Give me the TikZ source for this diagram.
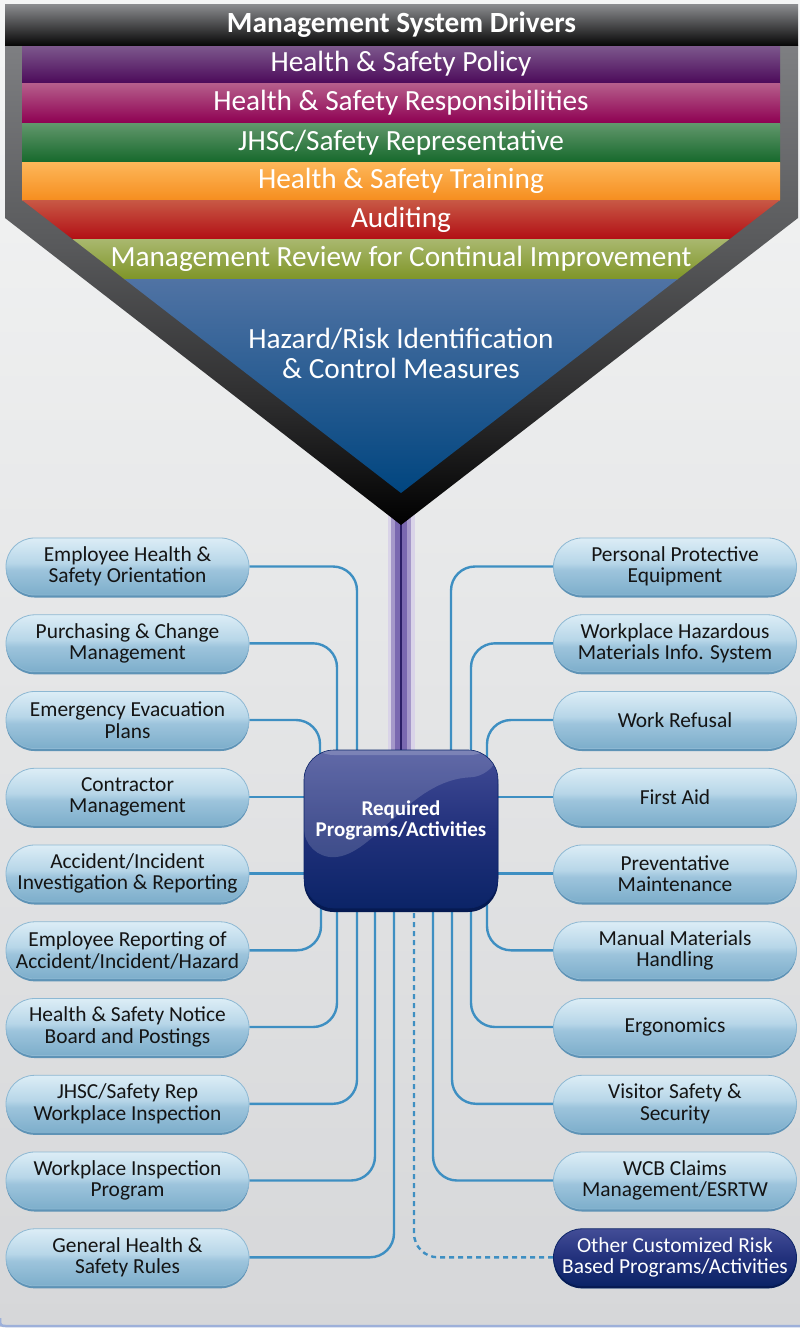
\documentclass[tikz,border=0pt]{standalone}
\usepackage{fontspec}
\setmainfont{Carlito}
\usetikzlibrary{calc}
\definecolor{bgtop}{HTML}{F4F5F5}
\definecolor{bgbot}{HTML}{D6D7D9}
\definecolor{bgline}{HTML}{9DB0DA}
\definecolor{fr1}{HTML}{7E7F82}
\definecolor{fr2}{HTML}{58595B}
\definecolor{fr3}{HTML}{2E2E2F}
\definecolor{ttop}{HTML}{8C8D90}
\definecolor{tbot}{HTML}{080808}
\definecolor{purT}{HTML}{7E5A8E}
\definecolor{purB}{HTML}{4C0A5A}
\definecolor{magT}{HTML}{B65F8C}
\definecolor{magB}{HTML}{8E0052}
\definecolor{grnT}{HTML}{62976C}
\definecolor{grnB}{HTML}{16692C}
\definecolor{orgT}{HTML}{FDB75A}
\definecolor{orgB}{HTML}{F68E1F}
\definecolor{redT}{HTML}{C85945}
\definecolor{redB}{HTML}{B20F15}
\definecolor{oliT}{HTML}{A9B86F}
\definecolor{oliB}{HTML}{7F9527}
\definecolor{bluT}{HTML}{5073A4}
\definecolor{bluM}{HTML}{22578F}
\definecolor{bluB}{HTML}{00457F}
\definecolor{conn}{HTML}{3E8FC2}
\definecolor{ptop}{HTML}{DCEDF6}
\definecolor{pmid1}{HTML}{B7D6E8}
\definecolor{pmid2}{HTML}{9DC4DC}
\definecolor{pbot}{HTML}{7DAECB}
\definecolor{pedge}{HTML}{8DB8D3}
\definecolor{pshadow}{HTML}{5E93B6}
\definecolor{btop}{HTML}{434D97}
\definecolor{bmid}{HTML}{22317C}
\definecolor{bbot}{HTML}{0B2467}
\definecolor{bshadow}{HTML}{061A52}
\definecolor{stemL}{HTML}{D9D3E8}
\definecolor{stemM}{HTML}{7A68B0}
\definecolor{stemD}{HTML}{2B1F66}
\pgfdeclarelayer{back}
\pgfdeclarelayer{conn}
\pgfsetlayers{back,conn,main}
\pgfdeclareverticalshading{frameshade}{100bp}{color(0bp)=(black); color(25bp)=(black); color(38bp)=(fr3); color(54bp)=(fr2); color(75bp)=(fr1); color(100bp)=(fr1)}
\pgfdeclareverticalshading{pillshade}{100bp}{color(0bp)=(pbot); color(25bp)=(pbot); color(47bp)=(pmid2); color(53bp)=(pmid1); color(75bp)=(ptop); color(100bp)=(ptop)}
\pgfdeclareverticalshading{boxshade}{100bp}{color(0bp)=(bbot); color(25bp)=(bbot); color(50bp)=(bmid); color(75bp)=(btop); color(100bp)=(btop)}
\newcommand{\pillfont}{\fontsize{21.4}{21.5}\selectfont}
\newcommand{\bandfont}{\fontsize{29.3}{30}\selectfont}
\begin{document}
\begin{tikzpicture}[x=1pt,y=-1pt,
  pill/.style={rounded corners=28.5, minimum width=243, minimum height=57, inner sep=0,
    shade, shading=pillshade, draw=pedge, line width=0.8, align=center, font=\pillfont,
    text=black!92, preaction={fill=pshadow, transform canvas={yshift=-2.5pt}}},
  darkpill/.style={pill, shading=boxshade, draw=bbot, text=white,
    preaction={fill=bshadow, transform canvas={yshift=-2.5pt}}},
  band/.style={minimum width=760, inner sep=0, text=white, font=\bandfont},
  link/.style={draw=conn, line width=2.4, rounded corners=24},
  dlink/.style={link, dash pattern=on 5pt off 4pt},
  boxnode/.style={rounded corners=30, minimum width=194, minimum height=158, inner sep=0,
    shade, shading=boxshade, draw=bbot, line width=0.6,
    preaction={fill=bshadow, transform canvas={yshift=-4pt}}},
  boxtext/.style={text=white, align=center, font=\bfseries\fontsize{21}{21}\selectfont, yshift=9pt},
]
\useasboundingbox (0,0) rectangle (800,1331);
\begin{pgfonlayer}{back}
\fill[white] (0,0) rectangle (800,1331);
\shade[top color=bgtop, bottom color=bgbot] (0,0) rectangle (800,1326);
\draw[bgline, line width=2.5] (0,1318) .. controls (0,1326) .. (8,1326) -- (800,1326);
\end{pgfonlayer}

% funnel frame
\shade[shading=frameshade] (5,45) -- (798,45) -- (798,218) -- (401,525) -- (5,218) -- cycle;
\coordinate (tip) at (401,515);
% bands
\begin{scope}
\clip (22,44) -- (780,44) -- (780,200) -- (401,493) -- (22,200) -- cycle;
\node[band, top color=purT, bottom color=purB, minimum height=38] (b1) at (401,64) {Health \& Safety Policy};
\node[band, top color=magT, bottom color=magB, minimum height=40] (b2) at (401,103) {Health \& Safety Responsibilities};
\node[band, top color=grnT, bottom color=grnB, minimum height=39] (b3) at (401,142.5) {JHSC/Safety Representative};
\node[band, top color=orgT, bottom color=orgB, minimum height=38] (b4) at (401,181) {Health \& Safety Training};
\node[band, top color=redT, bottom color=redB, minimum height=39] (b5) at (401,219.5) {Auditing};
\node[band, top color=oliT, bottom color=oliB, minimum height=40] (b6) at (401,259) {Management Review for Continual Improvement};
\shade[top color=bluT, middle color=bluM, bottom color=bluB] (0,279) rectangle (800,494);
\end{scope}
\node[text=white, font=\bandfont, align=center] (haz) at (401,353) {Hazard/Risk Identification\\\& Control Measures};
% title
\node[top color=ttop, bottom color=tbot, minimum width=793, minimum height=41, inner sep=0,
  text=white, font=\bfseries\fontsize{29.3}{30}\selectfont] (title) at (401.5,24.5) {Management System Drivers};

% central box
\node[boxnode, path picture={
  \coordinate (P) at (path picture bounding box.north west);
  \fill[white, opacity=0.16] (P) -- ($(P)+(0,108)$) .. controls ($(P)+(70,106)$) and ($(P)+(105,30)$) .. ($(P)+(196,26)$) -- ($(P)+(196,0)$) -- cycle;
  \fill[white, opacity=0.18] ($(P)+(0,0)$) rectangle ($(P)+(196,5)$);
}, label={[boxtext]center:Required\\Programs/Activities}] (box) at (401,829) {};

% left pills
\node[pill] (L1) at (127.5,566.5) {Employee Health \&\\Safety Orientation};
\node[pill] (L2) at (127.5,643.3) {Purchasing \& Change\\Management};
\node[pill] (L3) at (127.5,720) {Emergency Evacuation\\Plans};
\node[pill] (L4) at (127.5,796.8) {Contractor\\Management};
\node[pill] (L5) at (127.5,873.5) {Accident/Incident\\Investigation \& Reporting};
\node[pill] (L6) at (127.5,950.3) {Employee Reporting of\\Accident/Incident/Hazard};
\node[pill] (L7) at (127.5,1027) {Health \& Safety Notice\\Board and Postings};
\node[pill] (L8) at (127.5,1103.8) {JHSC/Safety Rep\\Workplace Inspection};
\node[pill] (L9) at (127.5,1180.5) {Workplace Inspection\\Program};
\node[pill] (L10) at (127.5,1257.3) {General Health \&\\Safety Rules};
% right pills
\node[pill] (R1) at (675,566.5) {Personal Protective\\Equipment};
\node[pill] (R2) at (675,643.3) {Workplace Hazardous\\Materials Info. System};
\node[pill] (R3) at (675,720) {Work Refusal};
\node[pill] (R4) at (675,796.8) {First Aid};
\node[pill] (R5) at (675,873.5) {Preventative\\Maintenance};
\node[pill] (R6) at (675,950.3) {Manual Materials\\Handling};
\node[pill] (R7) at (675,1027) {Ergonomics};
\node[pill] (R8) at (675,1103.8) {Visitor Safety \&\\Security};
\node[pill] (R9) at (675,1180.5) {WCB Claims\\Management/ESRTW};
\node[darkpill] (R10) at (675,1257.3) {Other Customized Risk\\Based Programs/Activities};

\begin{pgfonlayer}{conn}
% stem
\draw[stemL, line width=27] (tip) -- (box.north);
\draw[stemM!55!stemL, line width=20] (tip) -- (box.north);
\draw[stemM, line width=12] (tip) -- (box.north);
\draw[stemD, line width=1.6] (tip) -- (box.north);
% left connectors
\draw[link] (L1.east) -| ([xshift=-44pt,yshift=-6pt]box.north);
\draw[link] (L2.east) -| ([xshift=-64pt,yshift=-6pt]box.north);
\draw[link] (L3.east) -| ([xshift=-81pt,yshift=-8pt]box.north);
\draw[link] (L4.east) -- (L4.east -| box.west);
\draw[link] (L5.east) -- (L5.east -| box.west);
\draw[link] (L6.east) -| ([xshift=-80pt,yshift=8pt]box.south);
\draw[link] (L7.east) -| ([xshift=-64pt,yshift=6pt]box.south);
\draw[link] (L8.east) -| ([xshift=-44pt,yshift=6pt]box.south);
\draw[link] (L9.east) -| ([xshift=-26pt,yshift=6pt]box.south);
\draw[link] (L10.east) -| ([xshift=-7pt,yshift=6pt]box.south);
% right connectors
\draw[link] (R1.west) -| ([xshift=50pt,yshift=-6pt]box.north);
\draw[link] (R2.west) -| ([xshift=70pt,yshift=-6pt]box.north);
\draw[link] (R3.west) -| ([xshift=86pt,yshift=-8pt]box.north);
\draw[link] (R4.west) -- (R4.west -| box.east);
\draw[link] (R5.west) -- (R5.west -| box.east);
\draw[link] (R6.west) -| ([xshift=86pt,yshift=8pt]box.south);
\draw[link] (R7.west) -| ([xshift=70pt,yshift=6pt]box.south);
\draw[link] (R8.west) -| ([xshift=51pt,yshift=6pt]box.south);
\draw[link] (R9.west) -| ([xshift=32pt,yshift=6pt]box.south);
\draw[dlink] (R10.west) -| ([xshift=13pt,yshift=0pt]box.south);
\end{pgfonlayer}
\end{tikzpicture}
\end{document}
